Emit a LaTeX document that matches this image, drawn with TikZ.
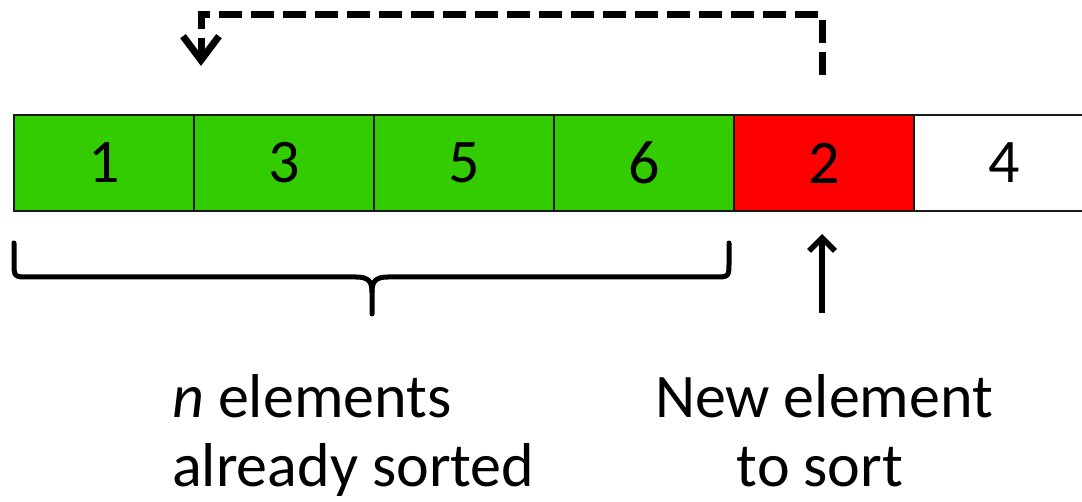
\documentclass[tikz,border=0pt]{standalone}
\usepackage{fontspec}
\setmainfont{Carlito}
\usetikzlibrary{arrows.meta}
\definecolor{sortedgreen}{RGB}{51,204,0}
\definecolor{pivotred}{RGB}{255,0,0}
\begin{document}
\begin{tikzpicture}[x=1pt,y=-1pt,
  cell/.style={draw=black!90, line width=1.8pt, minimum width=180pt,
    minimum height=96pt, inner sep=0pt, outer sep=0pt, anchor=north west,
    font=\fontsize{62}{70}\selectfont},
  caption/.style={inner sep=0pt, font=\fontsize{62}{70}\selectfont},
  movearrow/.style={line width=7pt, dash pattern=on 23pt off 9pt,
    -{Straight Barb[length=24pt,width=36pt]}},
  pointer/.style={line width=5.5pt, -{Straight Barb[length=13pt,width=26pt]}},
  bracestroke/.style={line width=5pt, line cap=round, line join=round},
]
\useasboundingbox (0,0) rectangle (1082,502);

% the array
\node[cell, fill=sortedgreen] (c1) at (14,115) {1};
\node[cell, fill=sortedgreen] (c2) at (194,115) {3};
\node[cell, fill=sortedgreen] (c3) at (374,115) {5};
\node[cell, fill=sortedgreen] (c4) at (554,115) {6};
\node[cell, fill=pivotred]    (c5) at (734,115) {2};
\node[cell, fill=white]       (c6) at (914,115) {4};

% insertion move: the new element goes back between 1 and 3
\coordinate (src) at (822,75);
\coordinate (dst) at (201,66);
\draw[movearrow] (src) -- (822,15) -| (dst);

% brace under the sorted part
\draw[bracestroke] (14,243) -- (14,262) .. controls (14,277) .. (29,277)
  -- (356,277) .. controls (369,277) and (372,282) .. (372,292) -- (372,314);
\draw[bracestroke] (729,243) -- (729,262) .. controls (729,277) .. (714,277)
  -- (388,277) .. controls (375,277) and (372,282) .. (372,292);

% pointer to the new element
\coordinate (ptr) at (822,313);
\coordinate (ptrtip) at (822,234);
\draw[pointer] (ptr) -- (ptrtip);

% captions
\node[caption, anchor=base west] (sortedA) at (172,418) {\textit{n} elements};
\node[caption, anchor=base west] (sortedB) at (172,486) {already sorted};
\node[caption, anchor=base] (newA) at (824,418) {New element};
\node[caption, anchor=base] (newB) at (820,486) {to sort};
\end{tikzpicture}
\end{document}
